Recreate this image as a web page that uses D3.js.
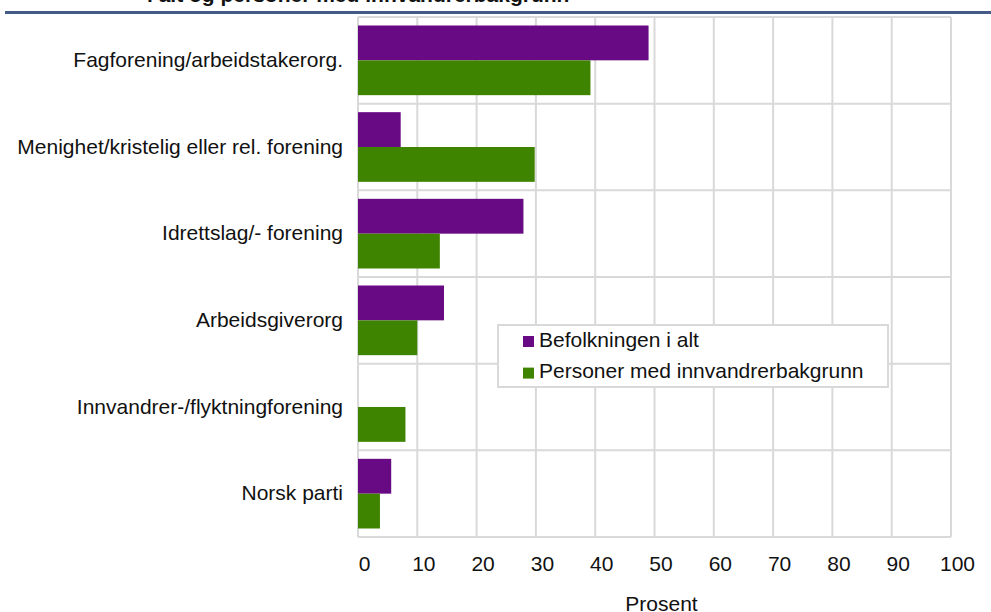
<!DOCTYPE html>
<html>
<head>
<meta charset="utf-8">
<script src="https://cdn.jsdelivr.net/npm/d3@7"></script>
<style>
  html, body { margin: 0; padding: 0; background: #fff; }
  svg { display: block; font-family: "Liberation Sans", Arial, sans-serif; }
</style>
</head>
<body>
<svg id="chart" width="991" height="612"></svg>
<script>
// Membership in organisations, percent
const categories = [
  "Fagforening/arbeidstakerorg.",
  "Menighet/kristelig eller rel. forening",
  "Idrettslag/- forening",
  "Arbeidsgiverorg",
  "Innvandrer-/flyktningforening",
  "Norsk parti"
];
const seriesNames = ["Befolkningen i alt", "Personer med innvandrerbakgrunn"];
const befolkningen = [49.0, 7.2, 27.9, 14.5, 0, 5.6];
const innvandrer = [39.2, 29.8, 13.8, 10.0, 8.0, 3.7];
const xTicks = [0, 10, 20, 30, 40, 50, 60, 70, 80, 90, 100];
const colors = ["#680a84", "#3f8400"];
const titleText = "i alt og personer med innvandrerbakgrunn";

const svg = d3.select("#chart");
const margin = { left: 358, top: 17 };
const W = 991;
const plotW = 951 - margin.left;
const plotH = 537 - margin.top;
const fontSize = 21;

// Title (running above the top edge) and the rule beneath it
svg.append("text")
  .attr("x", 147).attr("y", 2)
  .attr("font-size", fontSize).attr("font-weight", "bold").attr("fill", "#111")
  .text(titleText);
svg.append("rect")
  .attr("x", 5).attr("y", 11).attr("width", W - 5).attr("height", 3)
  .attr("fill", "#445a87");

const g = svg.append("g").attr("transform", `translate(${margin.left},${margin.top})`);

const x = d3.scaleLinear().domain([0, 100]).range([0, plotW]);
const y = d3.scaleBand().domain(categories).range([0, plotH]).paddingInner(0).paddingOuter(0);
const inner = d3.scaleBand().domain(seriesNames).range([8.5, y.bandwidth() - 8.5]);

// Grid
const gridColor = "#d9d9d9";
g.selectAll("line.vgrid").data(xTicks).join("line")
  .attr("class", "vgrid")
  .attr("x1", d => x(d)).attr("x2", d => x(d))
  .attr("y1", 0).attr("y2", plotH)
  .attr("stroke", gridColor).attr("stroke-width", 2);
const hLines = categories.map(c => y(c)).concat([plotH]);
g.selectAll("line.hgrid").data(hLines).join("line")
  .attr("class", "hgrid")
  .attr("x1", 0).attr("x2", plotW)
  .attr("y1", d => d).attr("y2", d => d)
  .attr("stroke", gridColor).attr("stroke-width", 2);

// Bars
const rows = categories.map((c, i) => ({ c, vals: [befolkningen[i], innvandrer[i]] }));
const groups = g.selectAll("g.row").data(rows).join("g")
  .attr("class", "row")
  .attr("transform", d => `translate(0,${y(d.c)})`);
groups.selectAll("rect").data(d => d.vals.map((v, k) => ({ v, k })).filter(e => e.v > 0)).join("rect")
  .attr("x", x(0))
  .attr("y", e => inner(seriesNames[e.k]))
  .attr("width", e => x(e.v) - x(0))
  .attr("height", inner.bandwidth())
  .attr("fill", e => colors[e.k]);

// Category labels
const yAxis = d3.axisLeft(y).tickSize(0).tickPadding(15);
const ya = g.append("g").call(yAxis);
ya.select(".domain").remove();
ya.selectAll("text").attr("font-size", fontSize).attr("fill", "#111")
  .attr("font-family", "Liberation Sans, Arial, sans-serif");

// Value axis
const xAxis = d3.axisBottom(x).tickValues(xTicks).tickSize(0).tickPadding(19);
const xa = g.append("g").attr("transform", `translate(0,${plotH})`).call(xAxis);
xa.select(".domain").remove();
xa.selectAll("text").attr("font-size", fontSize).attr("fill", "#111").attr("dx", 6)
  .attr("font-family", "Liberation Sans, Arial, sans-serif");

svg.append("text")
  .attr("x", margin.left + plotW / 2 + 7).attr("y", 611)
  .attr("text-anchor", "middle").attr("font-size", fontSize).attr("fill", "#111")
  .text("Prosent");

// Legend
const lg = svg.append("g").attr("transform", "translate(498,325)");
lg.append("rect").attr("width", 390).attr("height", 62)
  .attr("fill", "#fff").attr("stroke", gridColor).attr("stroke-width", 2);
seriesNames.forEach((name, i) => {
  lg.append("rect").attr("x", 25).attr("y", 11 + i * 31.6).attr("width", 11).attr("height", 11)
    .attr("fill", colors[i]);
  lg.append("text").attr("x", 41).attr("y", 21.7 + i * 31.6)
    .attr("font-size", fontSize).attr("fill", "#111").text(name);
});
</script>
</body>
</html>
